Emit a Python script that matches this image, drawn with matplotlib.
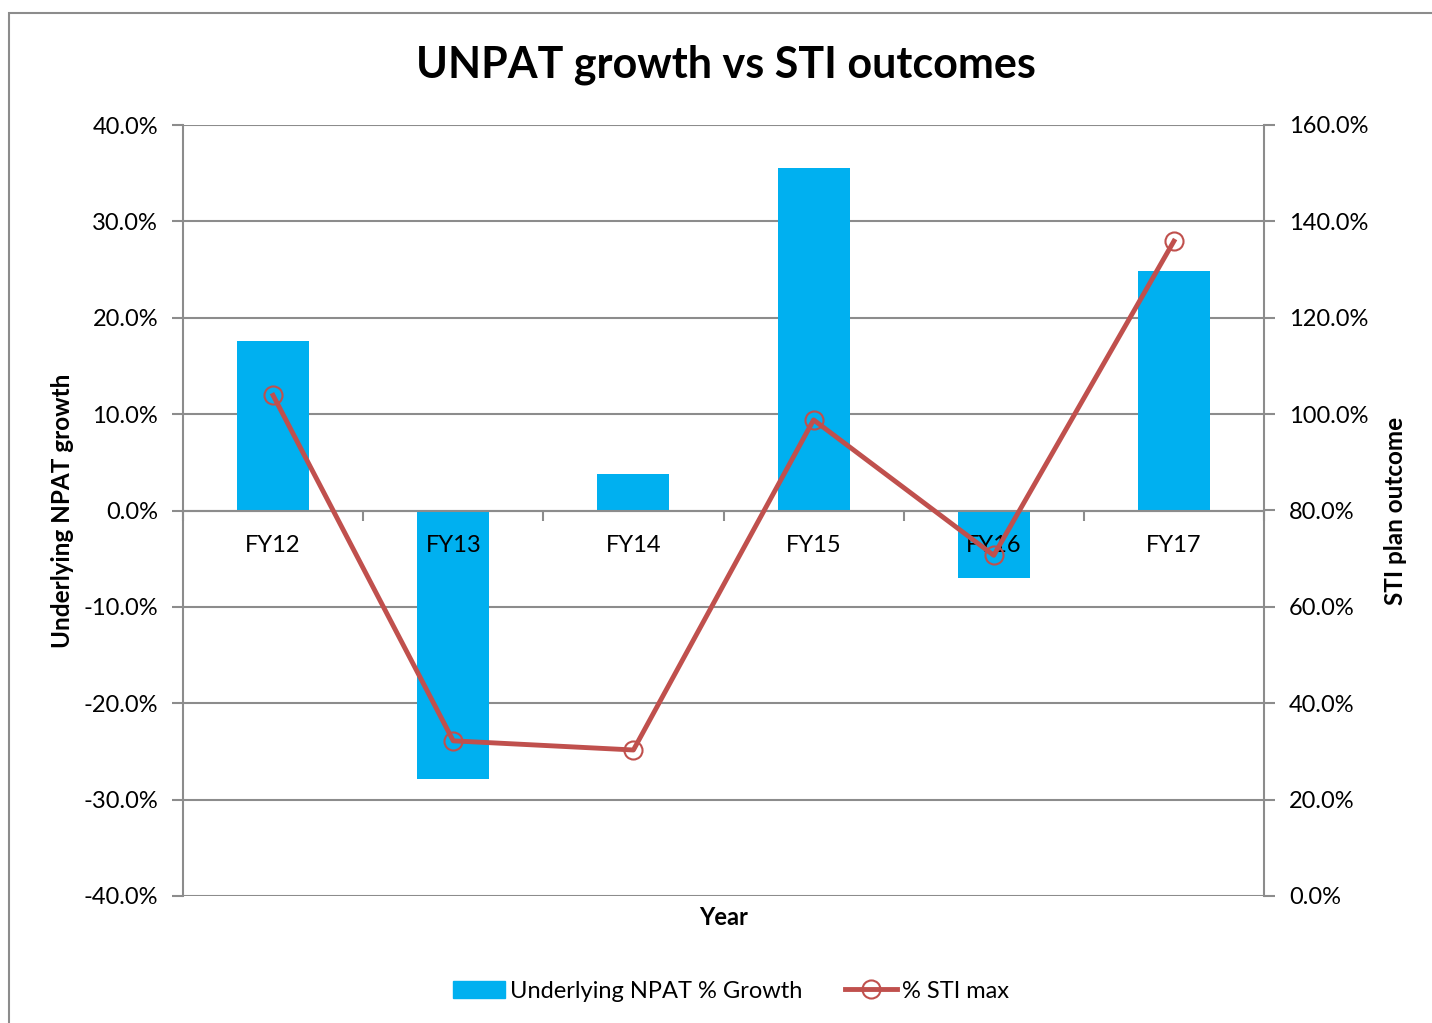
import matplotlib
matplotlib.use("Agg")
import matplotlib.pyplot as plt
from matplotlib.patches import Rectangle
from matplotlib.ticker import FuncFormatter, FixedLocator

plt.rcParams['font.family'] = ['Lato', 'DejaVu Sans']

years = ['FY12', 'FY13', 'FY14', 'FY15', 'FY16', 'FY17']
npat_growth = [17.6, -27.9, 3.8, 35.5, -7.0, 24.8]
sti_max = [103.9, 32.2, 30.3, 98.8, 70.7, 135.9]

bar_col = '#00b0f0'
line_col = '#c0504d'
grid_col = '#8c8c8c'

fig = plt.figure(figsize=(14.32, 10.23), dpi=100)
W, H = 1432, 1023
# outer chart border
fig.patches.append(Rectangle((9 / W, -0.1), 1.2, 1 - 13 / H + 0.1, transform=fig.transFigure,
                             fill=False, edgecolor='#8c8c8c', lw=1.5))

ax = fig.add_axes([183 / W, 1 - 896 / H, (1264 - 183) / W, (896 - 125) / H])
x = list(range(len(years)))
ax.bar(x, npat_growth, width=0.4, color=bar_col, zorder=2)
ax.set_xlim(-0.5, 5.5)
ax.set_ylim(-40, 40)
ax.set_yticks(range(-40, 41, 10))
ax.yaxis.set_major_formatter(FuncFormatter(lambda v, p: f'{v:.1f}%'))
ax.grid(axis='y', color=grid_col, lw=1.5, zorder=0)
for s in ['top', 'right']:
    ax.spines[s].set_visible(False)
ax.spines['left'].set_color(grid_col)
ax.spines['left'].set_linewidth(1.5)
ax.spines['bottom'].set_position(('data', 0))
ax.spines['bottom'].set_color(grid_col)
ax.spines['bottom'].set_linewidth(1.5)
ax.spines['bottom'].set_zorder(3)
ax.tick_params(axis='y', length=8, width=1.5, color=grid_col, labelsize=17, pad=10)
ax.xaxis.set_major_locator(FixedLocator([i + 0.5 for i in range(-1, 6)]))
ax.set_xticklabels([''] * 7)
ax.tick_params(axis='x', which='major', length=7, width=1.5, color=grid_col, direction='out')
# category labels drawn on top of the bars
for i, yr in enumerate(years):
    ax.annotate(yr, (i, 0), xytext=(0, -25), textcoords='offset points',
                ha='center', va='center', fontsize=17, zorder=5)
ax.set_ylabel('Underlying NPAT growth', fontsize=17.5, fontweight='bold', labelpad=7)
ax.text(0.5, -0.028, 'Year', transform=ax.transAxes, ha='center', va='center',
        fontsize=17, fontweight='bold')

ax2 = ax.twinx()
ax2.plot(x, sti_max, color=line_col, lw=3.5, marker='o', markersize=13,
         markerfacecolor='none', markeredgecolor=line_col, markeredgewidth=1.5, zorder=4)
ax2.set_ylim(0, 160)
ax2.set_yticks(range(0, 161, 20))
ax2.yaxis.set_major_formatter(FuncFormatter(lambda v, p: f'{v:.1f}%'))
for s in ['top', 'left', 'bottom']:
    ax2.spines[s].set_visible(False)
ax2.spines['right'].set_color(grid_col)
ax2.spines['right'].set_linewidth(1.5)
ax2.tick_params(axis='y', length=8, width=1.5, color=grid_col, labelsize=17, pad=10)
ax2.set_ylabel('STI plan outcome', fontsize=17.5, fontweight='bold', labelpad=11)

fig.text(0.507, 1 - 65 / H, 'UNPAT growth vs STI outcomes', ha='center', va='center',
         fontsize=31, fontweight='bold')

h1 = plt.Rectangle((0, 0), 1, 1, color=bar_col)
h2, = ax2.plot([], [], color=line_col, lw=3.5, marker='o', markersize=13,
               markerfacecolor='none', markeredgecolor=line_col, markeredgewidth=1.5)
fig.legend([h1, h2], ['Underlying NPAT % Growth', '% STI max'], loc='center',
           bbox_to_anchor=(0.5105, 1 - 991 / H), ncol=2, frameon=False, fontsize=17,
           handlelength=2.2, handletextpad=0.2, columnspacing=1.8)

fig.savefig('out.png', dpi=100)
